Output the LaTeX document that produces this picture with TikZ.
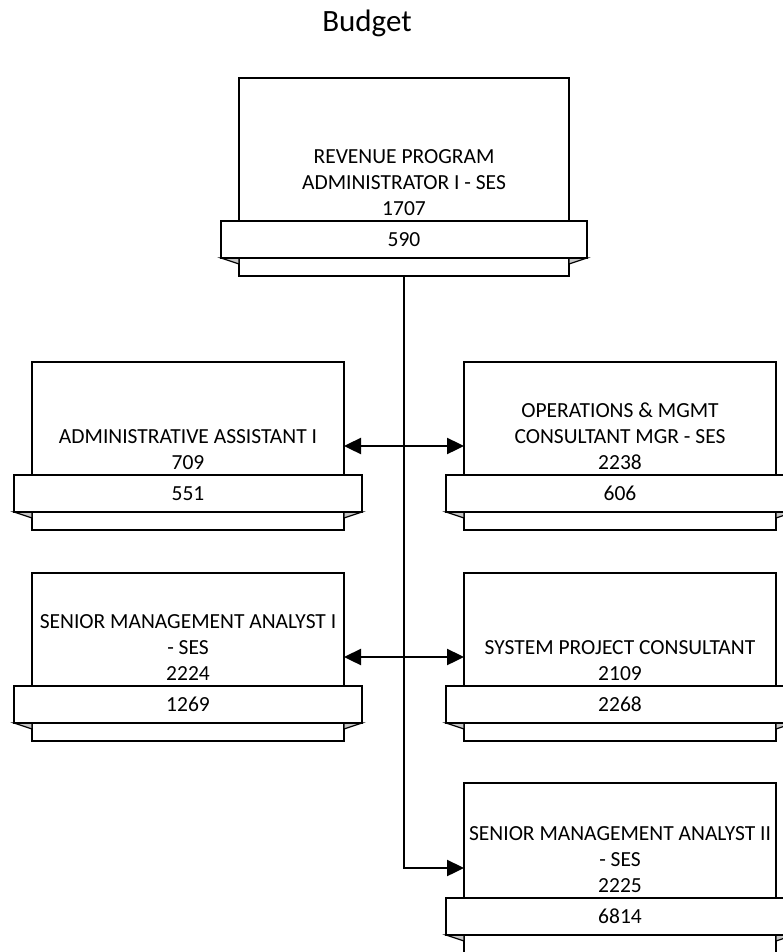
\documentclass[tikz,border=0pt]{standalone}
\usepackage{fontspec}
\setmainfont{Carlito}
\usetikzlibrary{arrows.meta}

\tikzset{
  unitbox/.style={draw=black, line width=1.2pt, fill=white, rectangle, inner sep=0pt, outer sep=0pt},
  ribbon/.style={draw=black, line width=1.2pt, fill=white, rectangle, inner sep=0pt,
                 font=\fontsize{21.5}{26}\selectfont},
  fold/.style={draw=black, line width=1.2pt, fill=black!22, line join=miter},
  unittext/.style={align=center, inner sep=0pt, anchor=south, font=\fontsize{21.5}{26}\selectfont},
  heading/.style={inner sep=0pt, anchor=base, font=\fontsize{31}{37}\selectfont},
  link/.style={line width=2.4pt, draw=black},
  tipend/.style={-{Triangle[length=17pt,width=16pt]}},
  tipboth/.style={{Triangle[length=17pt,width=16pt]}-{Triangle[length=17pt,width=16pt]}}
}

% #1 name, #2 left x, #3 right x, #4 box top y, #5 ribbon top y, #6 title, #7 number
\newcommand\orgunit[7]{%
  \pgfmathsetmacro\oucx{(#2+#3)/2}%
  \pgfmathsetmacro\oucy{(#4+#5+55)/2}%
  \pgfmathsetmacro\ouw{#3-#2}%
  \pgfmathsetmacro\ouh{#5+55-#4}%
  \pgfmathsetmacro\ourw{#3-#2+36}%
  \node[unitbox, minimum width=\ouw pt, minimum height=\ouh pt] (#1) at (\oucx,\oucy) {};
  \draw[fold] (#2-18,#5+37) -- (#2,#5+37) -- (#2,#5+43) -- cycle;
  \draw[fold] (#3+18,#5+37) -- (#3,#5+37) -- (#3,#5+43) -- cycle;
  \node[ribbon, minimum width=\ourw pt, minimum height=37pt] (#1-num) at (\oucx,#5+18.5) {#7};
  \node[unittext] (#1-title) at (\oucx,#5-5) {#6};
}

\begin{document}
\begin{tikzpicture}[x=1pt, y=-1pt]
  \useasboundingbox (0,0) rectangle (783,952);
  \clip (0,0) rectangle (783,952);

  \node[heading] (title) at (367,32) {Budget};

  \orgunit{rpa}{239}{569}{78}{221}{REVENUE PROGRAM\\ADMINISTRATOR I - SES\\1707}{590}
  \orgunit{aa}{32}{344}{362}{475}{ADMINISTRATIVE ASSISTANT I\\709}{551}
  \orgunit{om}{464}{776}{362}{475}{OPERATIONS \& MGMT\\CONSULTANT MGR - SES\\2238}{606}
  \orgunit{sma}{32}{344}{573}{686}{SENIOR MANAGEMENT ANALYST I\\- SES\\2224}{1269}
  \orgunit{spc}{464}{776}{573}{686}{SYSTEM PROJECT CONSULTANT\\2109}{2268}
  \orgunit{smb}{464}{776}{783}{898}{SENIOR MANAGEMENT ANALYST II\\- SES\\2225}{6814}

  % reporting lines
  \draw[link, tipend] (rpa.south) |- (smb.west);
  \draw[link, tipboth] (aa.east) -- (om.west);
  \draw[link, tipboth] (sma.east) -- (spc.west);
\end{tikzpicture}
\end{document}
